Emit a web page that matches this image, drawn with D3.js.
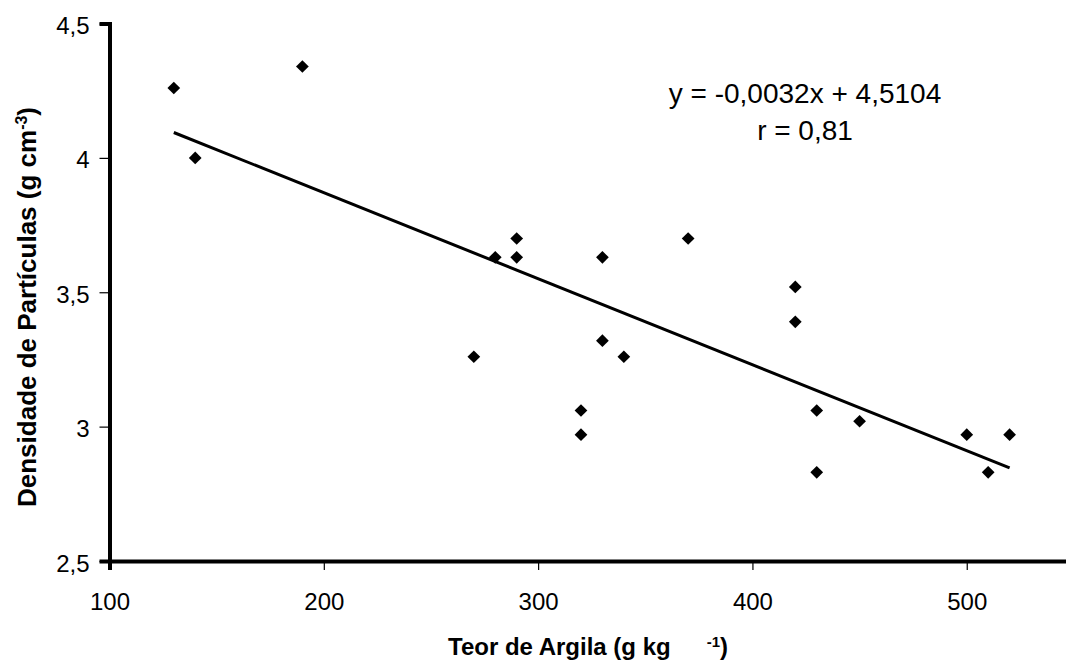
<!DOCTYPE html>
<html>
<head>
<meta charset="utf-8">
<script src="https://cdn.jsdelivr.net/npm/d3@7"></script>
<style>
  html, body { margin: 0; padding: 0; background: #fff; }
  svg { display: block; }
  text { font-family: "Liberation Sans", Arial, sans-serif; fill: #000; }
</style>
</head>
<body>
<svg id="chart" width="1066" height="663"></svg>
<script>
// Clay content (g/kg) and particle density (g/cm3) of the sampled soils
const clay = [130, 140, 190, 270, 280, 290, 290, 320, 320, 330, 330, 340, 370, 420, 420, 430, 430, 450, 500, 510, 520];
const density = [4.26, 4.00, 4.34, 3.26, 3.63, 3.70, 3.63, 3.06, 2.97, 3.63, 3.32, 3.26, 3.70, 3.52, 3.39, 3.06, 2.83, 3.02, 2.97, 2.83, 2.97];

// Fitted regression
const slope = -0.0032;
const intercept = 4.5104;
const fitRange = [130, 520];

const xTicks = [100, 200, 300, 400, 500];
const yTicks = [2.5, 3, 3.5, 4, 4.5];

const svg = d3.select("#chart");

const x = d3.scaleLinear().domain([100, 550]).range([109.5, 1073.9]);
const y = d3.scaleLinear().domain([2.5, 4.5]).range([561, 23.5]);

const comma = d => String(d).replace(".", ",");

// Axes
const xAxis = svg.append("g")
  .attr("transform", `translate(0,${y(2.5)})`)
  .call(d3.axisBottom(x).tickValues(xTicks).tickSizeOuter(0).tickSize(9).tickPadding(23).tickFormat(d => d));
const yAxis = svg.append("g")
  .attr("transform", `translate(${x(100)},0)`)
  .call(d3.axisLeft(y).tickValues(yTicks).tickSizeOuter(0).tickSize(10).tickPadding(10).tickFormat(comma));

[xAxis, yAxis].forEach(g => {
  g.select(".domain").attr("stroke", "#000").attr("stroke-width", 4);
  g.selectAll(".tick line").attr("stroke", "#000").attr("stroke-width", 1.2);
  g.selectAll(".tick text")
    .style("font-family", "'Liberation Sans', Arial, sans-serif")
    .style("font-size", "24px")
    .attr("fill", "#000");
});
yAxis.selectAll(".tick text").attr("dy", "0.42em");

// Regression line
svg.append("line")
  .attr("x1", x(fitRange[0])).attr("y1", y(slope * fitRange[0] + intercept))
  .attr("x2", x(fitRange[1])).attr("y2", y(slope * fitRange[1] + intercept))
  .attr("stroke", "#000").attr("stroke-width", 3);

// Points as diamonds
svg.append("g").selectAll("rect")
  .data(clay.map((c, i) => [c, density[i]]))
  .join("rect")
  .attr("x", -4.5).attr("y", -4.5)
  .attr("width", 9).attr("height", 9)
  .attr("transform", d => `translate(${x(d[0])},${y(d[1])}) rotate(45)`)
  .attr("fill", "#000");

// Equation and correlation, centred on each other
const eqX = 805;
svg.append("text")
  .attr("x", eqX).attr("y", 103)
  .attr("text-anchor", "middle")
  .style("font-size", "28px")
  .text("y = -0,0032x + 4,5104");
svg.append("text")
  .attr("x", eqX).attr("y", 140)
  .attr("text-anchor", "middle")
  .style("font-size", "28px")
  .text("r = 0,81");

// X axis title
const xt = svg.append("text")
  .attr("x", 448).attr("y", 655)
  .style("font-size", "24px").style("font-weight", "bold");
xt.append("tspan").text("Teor de Argila (g kg");
xt.append("tspan").attr("dx", 36).attr("dy", -8).style("font-size", "15px").text("-1");
xt.append("tspan").attr("dy", 8).text(")");

// Y axis title
const yt = svg.append("text")
  .attr("transform", "translate(36,507) rotate(-90)")
  .style("font-size", "26px").style("font-weight", "bold");
yt.append("tspan").text("Densidade de Partículas (g cm");
yt.append("tspan").attr("dy", -9).style("font-size", "16px").text("-3");
yt.append("tspan").attr("dy", 9).text(")");
</script>
</body>
</html>
